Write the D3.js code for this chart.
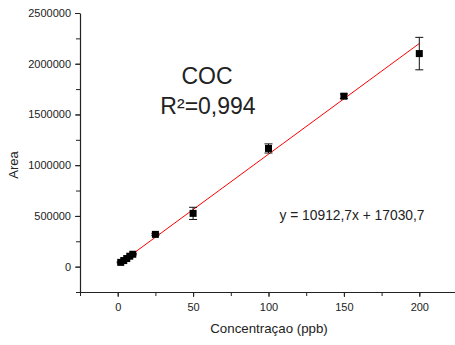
<!DOCTYPE html>
<html lang="pt">
  <head>
    <meta charset="utf-8" />
    <title>COC calibration</title>
    <script src="https://d3js.org/d3.v7.min.js"></script>
    <style>
      body { margin: 0; background: #fff; }
      text { font-family: "Liberation Sans", Arial, sans-serif; fill: #222; }
      .axis path, .axis line { stroke: #222; }
    </style>
  </head>
  <body>
    <svg width="455" height="345"></svg>
    <script>
      const conc = [2, 4, 6, 8, 10, 25, 50, 100, 150, 200];
      const area = [42000, 60000, 80000, 103000, 122000, 318000, 525000, 1165000, 1680000, 2100000];
      const errs = [5000, 5000, 5000, 5000, 6000, 10000, 60000, 45000, 22000, 160000];
      const slope = 10912.7;
      const intercept = 17030.7;
      const xTicks = [0, 50, 100, 150, 200];
      const yTicks = [0, 500000, 1000000, 1500000, 2000000, 2500000];

      const svg = d3.select("svg");
      const x = d3.scaleLinear().domain([-25, 225]).range([80, 457]);
      const y = d3.scaleLinear().domain([-250000, 2500000]).range([292, 13]);

      // minor ticks
      svg.append("g").attr("class", "axis").attr("transform", "translate(0,292)")
        .call(d3.axisBottom(x).tickValues(d3.range(-25, 226, 25)).tickSize(4).tickFormat(""))
        .call(g => g.select(".domain").remove());
      svg.append("g").attr("class", "axis").attr("transform", "translate(80,0)")
        .call(d3.axisLeft(y).tickValues(d3.range(-250000, 2500001, 250000)).tickSize(4).tickFormat(""))
        .call(g => g.select(".domain").remove());

      const xAxis = svg.append("g").attr("class", "axis").attr("transform", "translate(0,292)")
        .call(d3.axisBottom(x).tickValues(xTicks).tickSize(5).tickSizeOuter(0).tickPadding(6));
      const yAxis = svg.append("g").attr("class", "axis").attr("transform", "translate(80,0)")
        .call(d3.axisLeft(y).tickValues(yTicks).tickSize(5).tickSizeOuter(0).tickPadding(4).tickFormat(d3.format("d")));
      xAxis.selectAll("text").attr("font-size", 11);
      yAxis.selectAll("text").attr("font-size", 11);
      svg.selectAll(".domain").attr("stroke-width", 1.2);

      // fit line
      svg.append("line")
        .attr("x1", x(conc[0])).attr("y1", y(slope * conc[0] + intercept))
        .attr("x2", x(200)).attr("y2", y(slope * 200 + intercept))
        .attr("stroke", "red").attr("stroke-width", 1);

      const pts = conc.map((c, i) => ({ c, a: area[i], e: errs[i] }));

      // error bars
      const eb = svg.append("g").attr("stroke", "#111").attr("stroke-width", 1);
      pts.forEach(d => {
        eb.append("line").attr("x1", x(d.c)).attr("x2", x(d.c))
          .attr("y1", y(d.a - d.e)).attr("y2", y(d.a + d.e));
        [d.a - d.e, d.a + d.e].forEach(v => {
          eb.append("line").attr("x1", x(d.c) - 4).attr("x2", x(d.c) + 4)
            .attr("y1", y(v)).attr("y2", y(v));
        });
      });

      svg.append("g").selectAll("rect").data(pts).join("rect")
        .attr("x", d => x(d.c) - 3.5).attr("y", d => y(d.a) - 3.5)
        .attr("width", 7).attr("height", 7).attr("fill", "#000");

      svg.append("text").attr("x", 207).attr("y", 84).attr("text-anchor", "middle")
        .attr("font-size", 23).text("COC");
      svg.append("text").attr("x", 208).attr("y", 114).attr("text-anchor", "middle")
        .attr("font-size", 23).text("R²=0,994");
      svg.append("text").attr("x", 352).attr("y", 220).attr("text-anchor", "middle")
        .attr("font-size", 13.8).text("y = 10912,7x + 17030,7");

      svg.append("text").attr("transform", "translate(18,165) rotate(-90)")
        .attr("text-anchor", "middle").attr("font-size", 13).text("Area");
      svg.append("text").attr("x", 269).attr("y", 333).attr("text-anchor", "middle")
        .attr("font-size", 13.3).text("Concentraçao (ppb)");
    </script>
  </body>
</html>
